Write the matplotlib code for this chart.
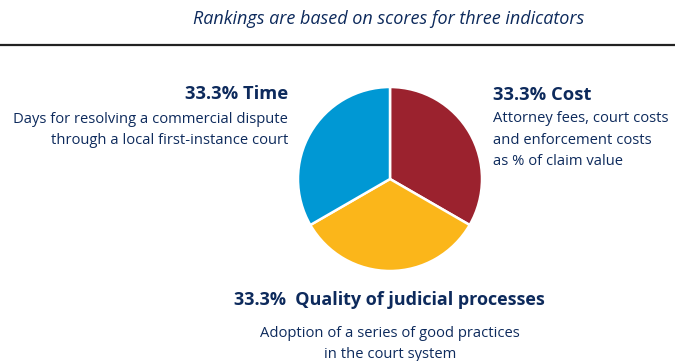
import matplotlib.pyplot as plt

# indicator weights (percent)
indicators = ['Cost', 'Quality of judicial processes', 'Time']
weights = [33.3, 33.3, 33.3]
colors = ['#9b222e', '#fbb61a', '#0098d4']
navy = '#0d2a5c'

W, H = 675, 361
fig = plt.figure(figsize=(W / 100, H / 100), dpi=100)
plt.rcParams['font.family'] = ['Open Sans', 'DejaVu Sans']

def px(x, y):
    return x / W, 1 - y / H

# pie
cx, cy, r = 390, 179, 92
ax = fig.add_axes([(cx - r) / W, (H - cy - r) / H, 2 * r / W, 2 * r / H])
ax.pie(weights, colors=colors, startangle=90, counterclock=False,
       wedgeprops=dict(edgecolor='white', linewidth=1.8))
ax.set_xlim(-1, 1)
ax.set_ylim(-1, 1)
ax.set_aspect('equal')
ax.axis('off')

# heading and rule
fig.text(*px(389, 19), 'Rankings are based on scores for three indicators',
         ha='center', va='center', style='italic', fontsize=13, color=navy)
fig.add_artist(plt.Line2D([0, 1], [1 - 45 / H] * 2, color='#222222', lw=1.6))

# Time
fig.text(*px(288, 94), f'{weights[2]}% {indicators[2]}', ha='right', va='center',
         fontsize=13.2, fontweight='bold', color=navy)
fig.text(*px(288, 130), 'Days for resolving a commercial dispute\nthrough a local first-instance court',
         ha='right', va='center', fontsize=10.6, color=navy, linespacing=1.55,
         multialignment='right')

# Cost
fig.text(*px(493, 95), f'{weights[0]}% {indicators[0]}', ha='left', va='center',
         fontsize=13.2, fontweight='bold', color=navy)
fig.text(*px(493, 140), 'Attorney fees, court costs\nand enforcement costs\nas % of claim value',
         ha='left', va='center', fontsize=10.6, color=navy, linespacing=1.55)

# Quality
fig.text(*px(389, 300), f'{weights[1]}%  {indicators[1]}', ha='center', va='center',
         fontsize=13, fontweight='bold', color=navy)
fig.text(*px(390, 344), 'Adoption of a series of good practices\nin the court system',
         ha='center', va='center', fontsize=10.6, color=navy, linespacing=1.55)

fig.savefig('out.png', dpi=100)
